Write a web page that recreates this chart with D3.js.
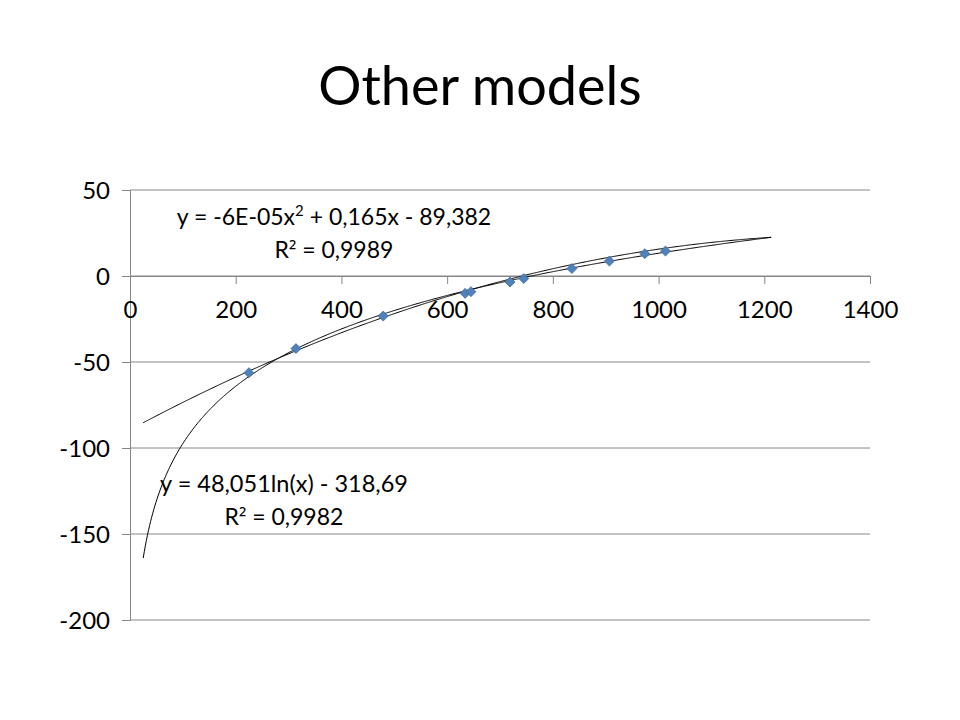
<!DOCTYPE html>
<html>
<head>
<meta charset="utf-8">
<script src="https://cdn.jsdelivr.net/npm/d3@7"></script>
<style>
  html, body { margin: 0; padding: 0; background: #ffffff; }
  svg { display: block; }
  text { font-family: Lato, "Open Sans", "Liberation Sans", sans-serif; fill: #000; }
</style>
</head>
<body>
<svg id="chart" width="960" height="720"></svg>
<script>
// ---- data ----
const titleText = "Other models";
const xValues = [225, 314, 479, 634, 645, 719, 745, 836, 907, 974, 1013];
const yValues = [-56.2, -42.2, -23.3, -10.1, -9.1, -3.5, -1.5, 4.3, 8.7, 13.0, 14.5];
const xTicks = [0, 200, 400, 600, 800, 1000, 1200, 1400];
const yTicks = [50, 0, -50, -100, -150, -200];
// trendline coefficients as displayed on the chart
const polyCoef = [-6e-5, 0.165, -89.382];   // a x^2 + b x + c
const logCoef = [48.051, -318.69];           // k ln(x) + m
const trendRange = [25, 1213];               // backward / forward forecast of 200
const polyLabel = ["y = -6E-05x", "2", " + 0,165x - 89,382"];
const polyR2 = ["R", "²", " = 0,9989"];
const logLabel = "y = 48,051ln(x) - 318,69";
const logR2 = ["R", "²", " = 0,9982"];

const svg = d3.select("#chart");
const x = d3.scaleLinear().domain([0, 1400]).range([130, 870]);
const y = d3.scaleLinear().domain([-200, 50]).range([620, 190]);
const gridColor = "#868686";

// title
svg.append("text").attr("x", 480).attr("y", 105)
  .attr("text-anchor", "middle").style("font-size", "54px").text(titleText);

// y axis + ticks
const yAxis = d3.axisLeft(y).tickValues(yTicks).tickSize(8).tickFormat(d => String(d));
const gy = svg.append("g").attr("transform", `translate(${x(0)},0)`).call(yAxis);
gy.select(".domain").attr("stroke", gridColor);
gy.selectAll(".tick line").attr("stroke", gridColor);
gy.selectAll(".tick text").attr("x", -20).attr("dy", "0.36em").style("font-size", "24px").attr("fill", "#000");
// horizontal gridlines
svg.append("g").selectAll("line").data(yTicks).join("line")
  .attr("x1", x(0)).attr("x2", x(1400))
  .attr("y1", d => y(d)).attr("y2", d => y(d))
  .attr("stroke", gridColor).attr("stroke-width", 1);

// x axis at y=0
const xAxis = d3.axisBottom(x).tickValues(xTicks).tickSize(8).tickFormat(d => String(d));
const gx = svg.append("g").attr("transform", `translate(0,${y(0)})`).call(xAxis);
gx.select(".domain").attr("stroke", gridColor);
gx.selectAll(".tick line").attr("stroke", gridColor);
gx.selectAll(".tick text").attr("y", 25).attr("dy", "0.7em").style("font-size", "24px").attr("fill", "#000");

// trendlines
const samples = d3.range(trendRange[0], trendRange[1] + 0.001, 2);
const line = d3.line().x(d => x(d[0])).y(d => y(d[1]));
svg.append("path")
  .datum(samples.map(v => [v, polyCoef[0] * v * v + polyCoef[1] * v + polyCoef[2]]))
  .attr("d", line).attr("fill", "none").attr("stroke", "#000").attr("stroke-width", 1);
svg.append("path")
  .datum(samples.map(v => [v, logCoef[0] * Math.log(v) + logCoef[1]]))
  .attr("d", line).attr("fill", "none").attr("stroke", "#000").attr("stroke-width", 1);

// markers
const pts = xValues.map((v, i) => [v, yValues[i]]);
svg.append("g").selectAll("path").data(pts).join("path")
  .attr("d", d3.symbol().type(d3.symbolDiamond2).size(64))
  .attr("transform", d => `translate(${x(d[0])},${y(d[1])})`)
  .attr("fill", "#4F81BD").attr("stroke", "#3C6696").attr("stroke-width", 0.7);

// equation labels
function r2(xp, yp, parts) {
  const t = svg.append("text").attr("x", xp).attr("y", yp).attr("text-anchor", "middle").style("font-size", "23px");
  t.append("tspan").text(parts[0]);
  t.append("tspan").style("font-family", "'Open Sans', 'DejaVu Sans', sans-serif").style("font-size", "21px").text(parts[1]);
  t.append("tspan").text(parts[2]);
}
const t1 = svg.append("text").attr("x", 334).attr("y", 225).attr("text-anchor", "middle").style("font-size", "23px");
t1.append("tspan").text(polyLabel[0]);
t1.append("tspan").attr("dy", -9).style("font-size", "15px").text(polyLabel[1]);
t1.append("tspan").attr("dy", 9).text(polyLabel[2]);
r2(334, 258, polyR2);
svg.append("text").attr("x", 284).attr("y", 492).attr("text-anchor", "middle").style("font-size", "23.5px").text(logLabel);
r2(284, 525, logR2);
</script>
</body>
</html>
